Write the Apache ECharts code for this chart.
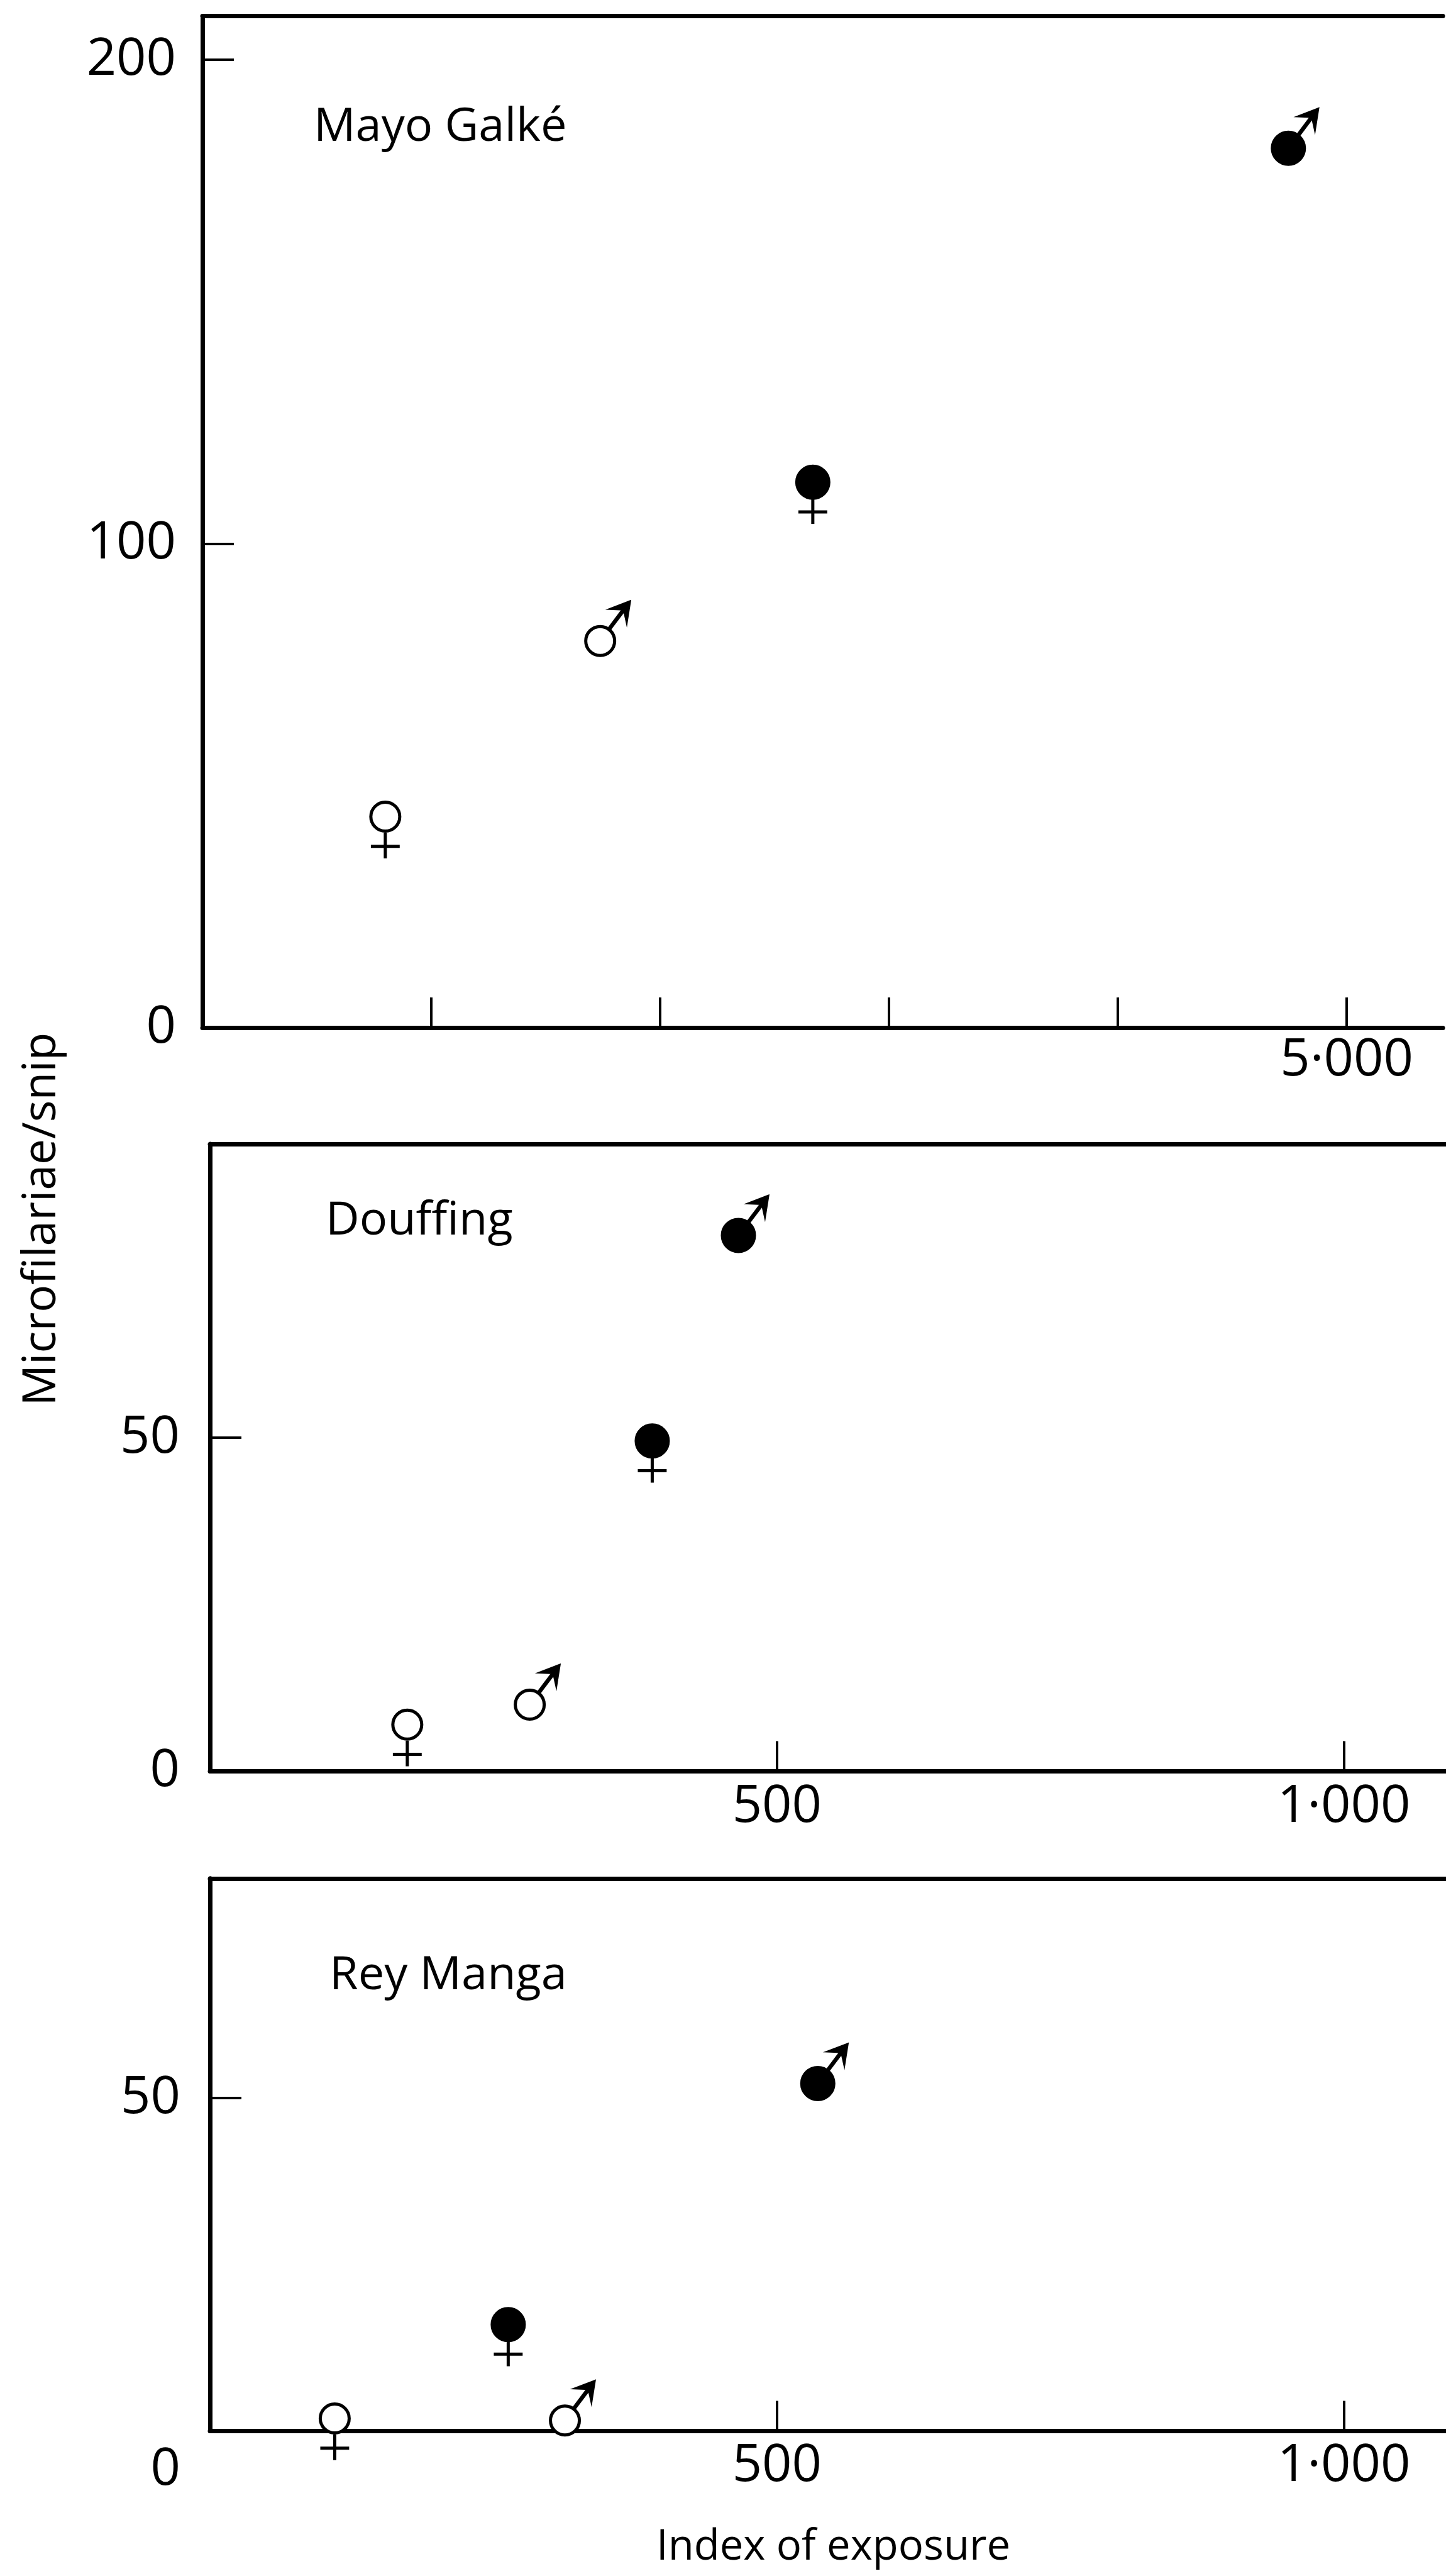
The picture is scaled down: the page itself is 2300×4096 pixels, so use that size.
<!DOCTYPE html>
<html>
<head>
<meta charset="utf-8">
<script src="https://cdn.jsdelivr.net/npm/echarts@6/dist/echarts.min.js"></script>
<style>
html,body{margin:0;padding:0;background:#fff;}
#chart{width:2300px;height:4096px;}
</style>
</head>
<body>
<div id="chart"></div>
<script>
// ---- data ----
// marker kinds, in the order used by every panel array below
const kindMale   = [0, 1, 0, 1];   // 0 = female symbol, 1 = male symbol
const kindFilled = [0, 0, 1, 1];   // 0 = open circle, 1 = filled circle

const panelNames = ['Mayo Galké', 'Douffing', 'Rey Manga'];

const mayoX = [799, 1738, 2667, 4745];
const mayoY = [43.6, 79.9, 112.7, 181.7];

const douffingX = [174, 282, 390, 466];
const douffingY = [7.0, 10.0, 49.5, 80.3];

const reyX = [110, 313, 263, 536];
const reyY = [1.9, 1.6, 16.0, 52.2];

// axes
const mayoXRange = [0, 5420];
const mayoYRange = [0, 209];
const mayoXTicks = [1000, 2000, 3000, 4000, 5000];
const mayoXLabels = [5000];
const mayoYTicks = [100, 200];
const mayoYLabels = [0, 100, 200];

const douffingXRange = [0, 1090];
const douffingYRange = [0, 94];
const reyXRange = [0, 1090];
const reyYRange = [0, 83];
const smallXTicks = [500, 1000];
const smallXLabels = [500, 1000];
const smallYTicks = [50];
const smallYLabels = [0, 50];

const yTitle = 'Microfilariae/snip';
const xTitle = 'Index of exposure';

// ---- chart ----
const FONT = 'Open Sans';
const fmtX = v => (v >= 1000 ? String(v).replace(/(\d)(\d{3})$/, '$1·$2') : String(v));

function build(xs, ys) {
  return xs.map((x, i) => [x, ys[i], kindMale[i], kindFilled[i]]);
}

function renderSex(params, api) {
  const c = api.coord([api.value(0), api.value(1)]);
  const male = api.value(2) === 1;
  const filled = api.value(3) === 1;
  const r = 25.5, lw = 5;
  const ch = [];
  ch.push({
    type: 'circle',
    shape: { cx: c[0], cy: c[1], r: filled ? r : r - lw / 2 },
    style: { fill: filled ? '#000' : '#fff', stroke: '#000', lineWidth: lw },
    z2: 2
  });
  if (!male) {
    ch.push({ type: 'line', shape: { x1: c[0], y1: c[1] + r, x2: c[0], y2: c[1] + 2.6 * r },
      style: { stroke: '#000', lineWidth: lw } });
    ch.push({ type: 'line', shape: { x1: c[0] - 0.9 * r, y1: c[1] + 1.85 * r, x2: c[0] + 0.9 * r, y2: c[1] + 1.85 * r },
      style: { stroke: '#000', lineWidth: lw } });
  } else {
    const th = 53 * Math.PI / 180;
    const dx = Math.cos(th), dy = -Math.sin(th);
    const L = 3.1 * r;
    const tip = [c[0] + dx * L, c[1] + dy * L];
    const bx = -dx, by = -dy;
    const rot = (a) => [bx * Math.cos(a) - by * Math.sin(a), bx * Math.sin(a) + by * Math.cos(a)];
    const a1 = rot(32 * Math.PI / 180), a2 = rot(-28 * Math.PI / 180);
    const hl = 1.35 * r;
    ch.push({ type: 'line', shape: { x1: c[0] + dx * r * 0.8, y1: c[1] + dy * r * 0.8, x2: tip[0] - dx * 0.5 * r, y2: tip[1] - dy * 0.5 * r },
      style: { stroke: '#000', lineWidth: lw + 1.5 } });
    ch.push({ type: 'polygon', shape: { points: [
        tip,
        [tip[0] + a1[0] * hl, tip[1] + a1[1] * hl],
        [tip[0] - dx * 0.65 * r, tip[1] - dy * 0.65 * r],
        [tip[0] + a2[0] * hl, tip[1] + a2[1] * hl]
      ] },
      style: { fill: '#000', stroke: '#000', lineWidth: 3, lineJoin: 'miter' } });
  }
  return { type: 'group', children: ch };
}

const axisLineStyle = { show: true, onZero: false, lineStyle: { color: '#000', width: 7 } };

function xAxes(gi, range, ticks, labels, margin) {
  return [
    { gridIndex: gi, type: 'value', min: range[0], max: range[1], position: 'bottom',
      axisLine: axisLineStyle,
      axisTick: { show: true, inside: true, length: 48, customValues: ticks, lineStyle: { color: '#000', width: 4 } },
      axisLabel: { show: true, customValues: labels, formatter: fmtX, margin: margin,
        fontFamily: FONT, fontSize: 83, color: '#000' },
      splitLine: { show: false } },
    { gridIndex: gi, type: 'value', min: range[0], max: range[1], position: 'top',
      axisLine: axisLineStyle, axisTick: { show: false }, axisLabel: { show: false }, splitLine: { show: false } }
  ];
}

function yAxis(gi, range, ticks, labels, margin, shiftZero) {
  return { gridIndex: gi, type: 'value', min: range[0], max: range[1], position: 'left',
    axisLine: axisLineStyle,
    axisTick: { show: true, inside: true, length: 50, customValues: ticks, lineStyle: { color: '#000', width: 4 } },
    axisLabel: { show: true, customValues: labels, margin: margin,
      fontFamily: FONT, fontSize: 83, color: '#000',
      formatter: shiftZero ? (v => (v === 0 ? '{low|0}' : String(v))) : (v => String(v)),
      rich: { low: { padding: [124, 0, 0, 0], fontFamily: FONT, fontSize: 83, color: '#000' } } },
    splitLine: { show: false } };
}

const option = {
  animation: false,
  backgroundColor: '#fff',
  grid: [
    { left: 322, top: 25.7, width: 1973, height: 1608.3 },
    { left: 334, top: 1819, width: 1966, height: 997.5 },
    { left: 334, top: 2986.8, width: 1966, height: 878.8 }
  ],
  xAxis: [
    ...xAxes(0, mayoXRange, mayoXTicks, mayoXLabels, 11),
    ...xAxes(1, douffingXRange, smallXTicks, smallXLabels, 15),
    ...xAxes(2, reyXRange, smallXTicks, smallXLabels, 14)
  ],
  yAxis: [
    yAxis(0, mayoYRange, mayoYTicks, mayoYLabels, 42, false),
    yAxis(1, douffingYRange, smallYTicks, smallYLabels, 48, false),
    yAxis(2, reyYRange, smallYTicks, smallYLabels, 47, true)
  ],
  series: [
    { name: panelNames[0], type: 'custom', xAxisIndex: 0, yAxisIndex: 0, clip: false,
      renderItem: renderSex, data: build(mayoX, mayoY), z: 5 },
    { name: panelNames[1], type: 'custom', xAxisIndex: 2, yAxisIndex: 1, clip: false,
      renderItem: renderSex, data: build(douffingX, douffingY), z: 5 },
    { name: panelNames[2], type: 'custom', xAxisIndex: 4, yAxisIndex: 2, clip: false,
      renderItem: renderSex, data: build(reyX, reyY), z: 5 }
  ],
  graphic: [
    { type: 'text', x: 499, y: 202.7, style: { text: panelNames[0], font: '74px "Open Sans"', fill: '#000', align: 'left', verticalAlign: 'middle' } },
    { type: 'text', x: 518, y: 1941.7, style: { text: panelNames[1], font: '74px "Open Sans"', fill: '#000', align: 'left', verticalAlign: 'middle' } },
    { type: 'text', x: 524, y: 3141.7, style: { text: panelNames[2], font: '74px "Open Sans"', fill: '#000', align: 'left', verticalAlign: 'middle' } },
    { type: 'text', x: 67, y: 1938.6, rotation: Math.PI / 2,
      style: { text: yTitle, font: '73px "Open Sans"', fill: '#000', align: 'center', verticalAlign: 'middle' } },
    { type: 'text', x: 1325.5, y: 4051.3,
      style: { text: xTitle, font: '67px "Open Sans"', fill: '#000', align: 'center', verticalAlign: 'middle' } }
  ]
};

const chart = echarts.init(document.getElementById('chart'), null, { renderer: 'canvas' });
chart.setOption(option);
</script>
</body>
</html>
